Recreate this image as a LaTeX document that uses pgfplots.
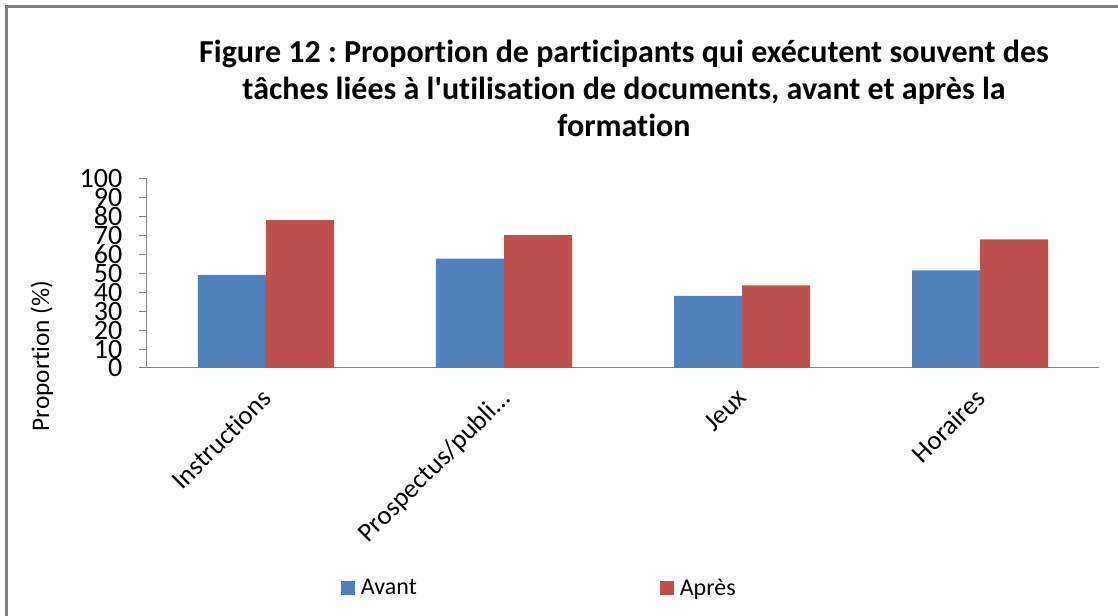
\documentclass[border=0pt]{standalone}
\usepackage{pgfplots}
\pgfplotsset{compat=1.18}
\usepackage{fontspec}
\setmainfont{Carlito}[Ligatures={NoCommon}]
\definecolor{avant}{RGB}{79,129,189}
\definecolor{apres}{RGB}{192,80,77}
\definecolor{axgray}{RGB}{134,134,134}
\definecolor{framegray}{RGB}{128,128,128}
\frenchspacing
\begin{document}
\begin{tikzpicture}
\useasboundingbox (-110.25pt,-186pt) rectangle (728.25pt,276pt);
\draw[framegray, line width=2.25pt] (740pt,270.75pt) -- (-105.4pt,270.75pt) -- (-105.4pt,-200pt);
\begin{axis}[
  at={(0pt,0pt)}, anchor=south west,
  scale only axis, width=714pt, height=142.3pt,
  ymin=0, ymax=100, xmin=-0.5, xmax=3.5,
  ybar=0pt, bar width=51pt,
  axis x line*=bottom, axis y line*=left,
  axis line style={axgray, line width=0.75pt, -},
  ytick={0,10,...,100},
  tick align=outside, major tick length=6pt,
  y tick style={axgray, line width=0.75pt},
  x tick style={draw=none},
  xtick={0,1,2,3},
  xticklabels={{Instructions}, {Prospectus/publi\ldots}, {Jeux}, {Horaires}},
  xticklabel style={xshift=-4.5pt, yshift=-3.5pt, rotate=45, anchor=north east, font=\fontsize{20}{22}\selectfont},
  yticklabel style={font=\fontsize{21}{14}\selectfont, xshift=-9pt},
  /pgf/number format/assume math mode=true,
  legend columns=2,
  legend style={at={(0.2038,-1.160)}, anchor=west, draw=none, fill=none, inner sep=0pt,
    font=\fontsize{18}{20}\selectfont,
    /tikz/every even column/.append style={column sep=180.5pt}},
  legend image code/.code={\fill[#1] (0pt,-5.25pt) rectangle (10.5pt,5.25pt); \path (12.75pt,0pt);},
]
\addplot[fill=avant, draw=none] coordinates {(0,49) (1,57.6) (2,38) (3,51.4)};
\addlegendentry{Avant}
\addplot[fill=apres, draw=none] coordinates {(0,78) (1,70) (2,43.5) (3,67.8)};
\addlegendentry{Après}
\end{axis}
\node[rotate=90, font=\fontsize{19}{20}\selectfont] at (-78.75pt,9pt) {Proportion (\%)};
\node[anchor=base, font=\fontsize{24}{28}\selectfont\bfseries] at (357.75pt,228.75pt) {Figure 12 : Proportion de participants qui exécutent souvent des};
\node[anchor=base, font=\fontsize{24}{28}\selectfont\bfseries] at (357.75pt,201pt) {tâches liées à l\textquotesingle utilisation de documents, avant et après la};
\node[anchor=base, font=\fontsize{24}{28}\selectfont\bfseries] at (357.75pt,173.25pt) {formation};
\end{tikzpicture}
\end{document}
